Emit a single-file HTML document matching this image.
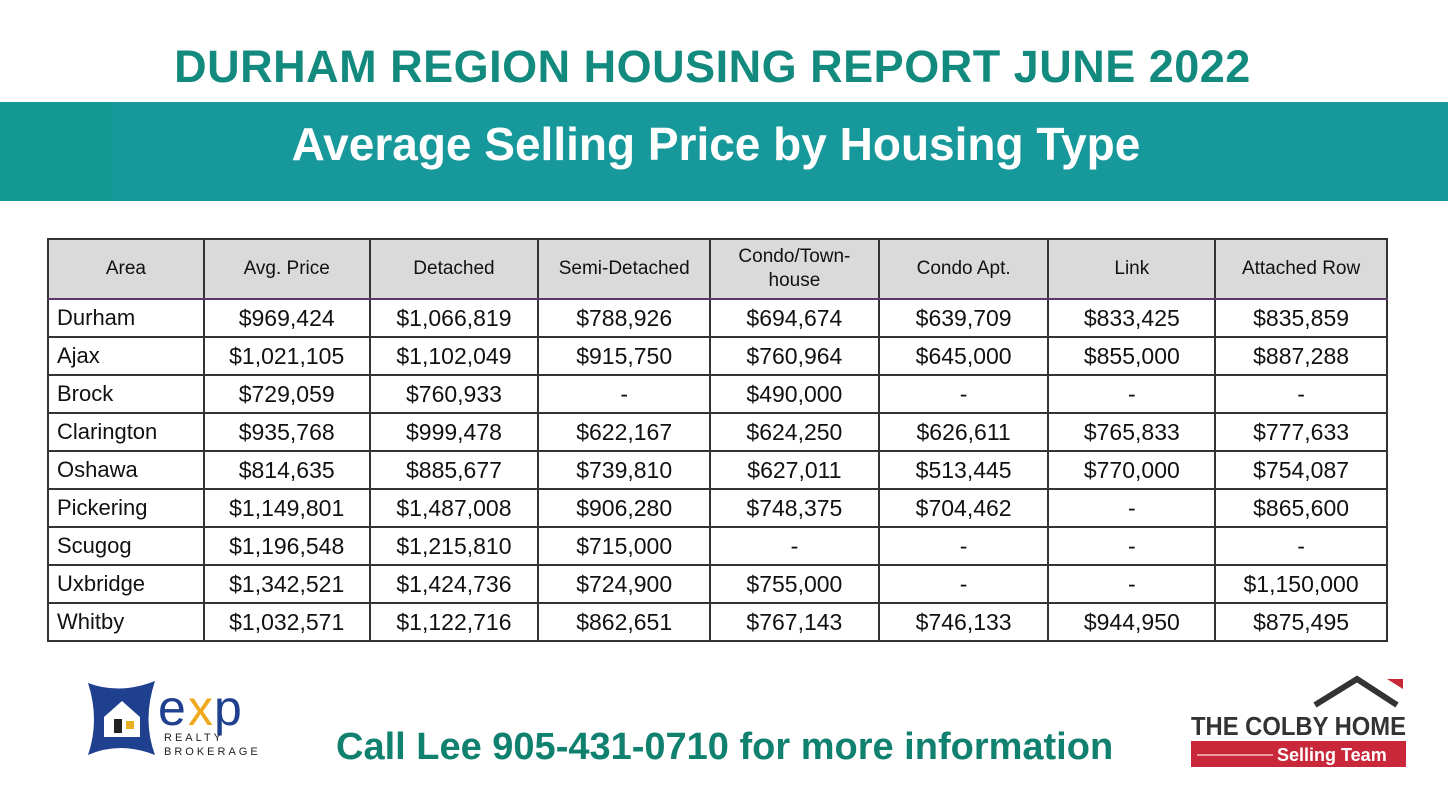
<!DOCTYPE html>
<html><head><meta charset="utf-8"><style>
body{margin:0;width:1452px;height:805px;background:#fff;position:relative;overflow:hidden;font-family:"Liberation Sans",sans-serif}
.abs{position:absolute}
#title{left:0;width:1425px;top:41px;text-align:center;font-weight:bold;font-size:45px;color:#138a7e;letter-spacing:0.5px}
#banner{left:0;top:102px;width:1448px;height:99px;background:#17989a}
#bannerleft{left:0;top:102px;width:112px;height:99px;background:#129a93}
#subtitle{left:0;width:1432px;top:117px;text-align:center;color:#fff;font-weight:bold;font-size:46px}
table{position:absolute;left:47px;top:238px;border-collapse:collapse;width:1341px}
td,th{border:2px solid #333;font-size:23px;color:#111;text-align:center;padding:0;height:36px}
th{background:#dadada;font-weight:normal;font-size:19px;height:58px;line-height:24px;border-bottom:2px solid #5a3a6a}
td:first-child{text-align:left;padding-left:8px;font-size:22px}
#call{left:336px;top:726px;font-weight:bold;font-size:38px;color:#10806f;white-space:nowrap}
</style></head><body>
<div id="title" class="abs">DURHAM REGION HOUSING REPORT JUNE 2022</div>
<div id="banner" class="abs"></div>
<div id="bannerleft" class="abs"></div>
<div id="subtitle" class="abs">Average Selling Price by Housing Type</div>
<table>
<colgroup><col style="width:156px"><col style="width:166px"><col style="width:169px"><col style="width:172px"><col style="width:169px"><col style="width:170px"><col style="width:167px"><col style="width:172px"></colgroup>
<tr><th style="text-align:center">Area</th><th>Avg. Price</th><th>Detached</th><th>Semi-Detached</th><th>Condo/Town-<br>house</th><th>Condo Apt.</th><th>Link</th><th>Attached Row</th></tr>
<tr><td>Durham</td><td>$969,424</td><td>$1,066,819</td><td>$788,926</td><td>$694,674</td><td>$639,709</td><td>$833,425</td><td>$835,859</td></tr>
<tr><td>Ajax</td><td>$1,021,105</td><td>$1,102,049</td><td>$915,750</td><td>$760,964</td><td>$645,000</td><td>$855,000</td><td>$887,288</td></tr>
<tr><td>Brock</td><td>$729,059</td><td>$760,933</td><td>-</td><td>$490,000</td><td>-</td><td>-</td><td>-</td></tr>
<tr><td>Clarington</td><td>$935,768</td><td>$999,478</td><td>$622,167</td><td>$624,250</td><td>$626,611</td><td>$765,833</td><td>$777,633</td></tr>
<tr><td>Oshawa</td><td>$814,635</td><td>$885,677</td><td>$739,810</td><td>$627,011</td><td>$513,445</td><td>$770,000</td><td>$754,087</td></tr>
<tr><td>Pickering</td><td>$1,149,801</td><td>$1,487,008</td><td>$906,280</td><td>$748,375</td><td>$704,462</td><td>-</td><td>$865,600</td></tr>
<tr><td>Scugog</td><td>$1,196,548</td><td>$1,215,810</td><td>$715,000</td><td>-</td><td>-</td><td>-</td><td>-</td></tr>
<tr><td>Uxbridge</td><td>$1,342,521</td><td>$1,424,736</td><td>$724,900</td><td>$755,000</td><td>-</td><td>-</td><td>$1,150,000</td></tr>
<tr><td>Whitby</td><td>$1,032,571</td><td>$1,122,716</td><td>$862,651</td><td>$767,143</td><td>$746,133</td><td>$944,950</td><td>$875,495</td></tr>
</table>
<svg class="abs" style="left:80px;top:675px" width="200" height="90">
<path d="M8 8 Q40 20 75 6 Q62 45 75 80 Q40 66 8 80 Q20 45 8 8Z" fill="#1f3f8f"/>
<path d="M24 42 L42 26 L60 42 L60 62 L24 62Z" fill="#fff"/>
<rect x="34" y="44" width="8" height="14" fill="#222"/><rect x="46" y="46" width="8" height="8" fill="#e6b020"/>
<text x="78" y="50" font-size="50" font-family="Liberation Sans" fill="#1f3f8f">e</text>
<text x="108" y="50" font-size="50" font-family="Liberation Sans" fill="#f0a81c">x</text>
<text x="134" y="50" font-size="50" font-family="Liberation Sans" fill="#1f3f8f">p</text>
<text x="84" y="66" font-size="11" letter-spacing="3" font-family="Liberation Sans" fill="#222">REALTY</text>
<text x="84" y="80" font-size="11" letter-spacing="3" font-family="Liberation Sans" fill="#222">BROKERAGE</text>
</svg>
<div id="call" class="abs">Call Lee 905-431-0710 for more information</div>
<svg class="abs" style="left:1185px;top:675px" width="230" height="100">
<path d="M130 30 L172 4 L212 30" fill="none" stroke="#333" stroke-width="6"/>
<path d="M202 4 L218 4 L218 14Z" fill="#c8283a"/>
<text x="6" y="60" font-size="26" font-weight="bold" font-family="Liberation Sans" fill="#333" textLength="215" lengthAdjust="spacingAndGlyphs">THE COLBY HOME</text>
<rect x="6" y="66" width="215" height="26" fill="#c8283a"/>
<line x1="12" y1="80" x2="88" y2="80" stroke="#f4c0c0" stroke-width="1.5"/>
<text x="92" y="86" font-size="18" font-weight="bold" font-family="Liberation Sans" fill="#fff">Selling Team</text>
</svg>
</body></html>
